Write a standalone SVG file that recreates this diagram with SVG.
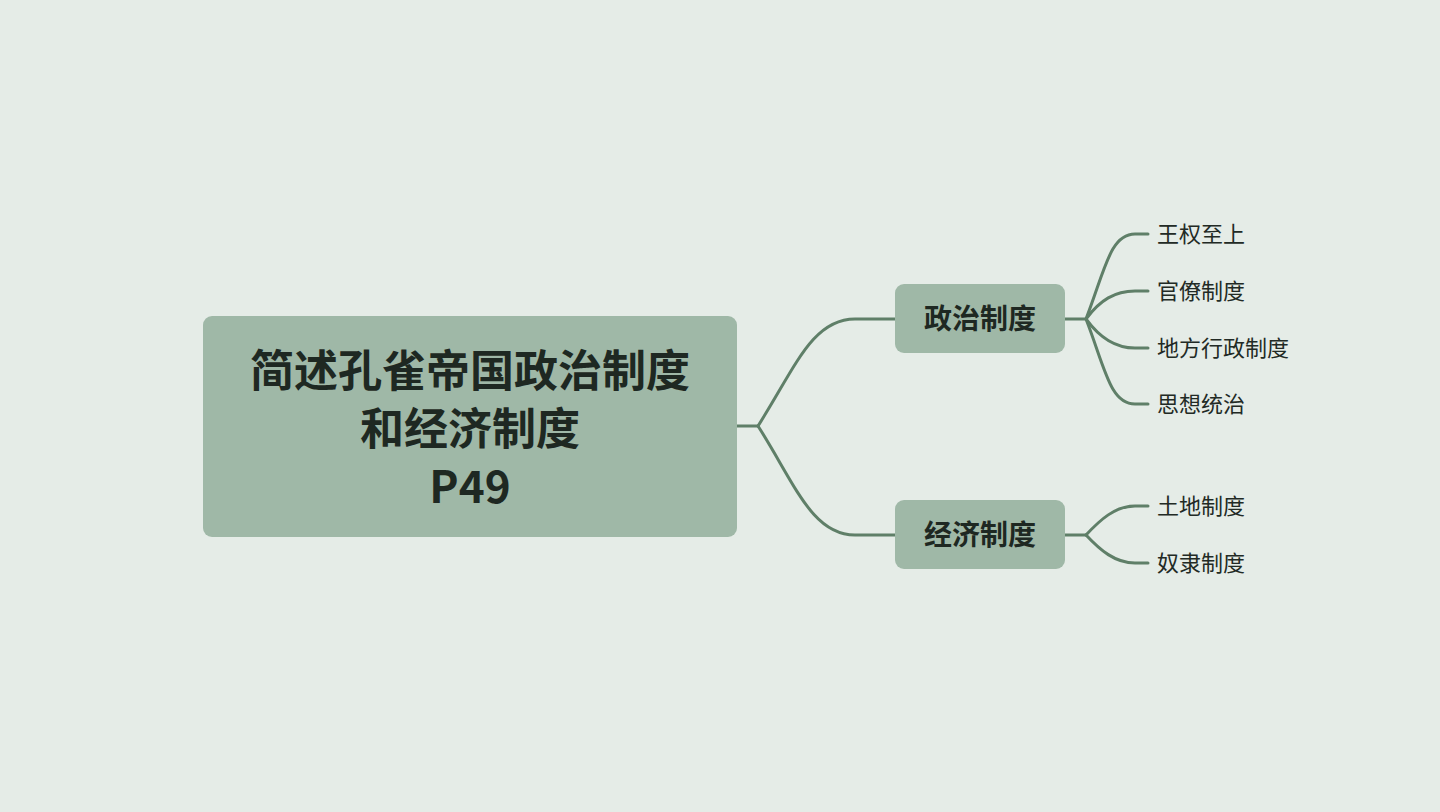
<svg xmlns="http://www.w3.org/2000/svg" width="1440" height="812" viewBox="0 0 1440 812">
<style>
.box{fill:#9fb8a7}
.t{font-family:"Noto Sans CJK SC","Noto Sans",sans-serif;fill:#1e2822;text-anchor:middle;dominant-baseline:central}
.main{font-size:44px;font-weight:700}
.sub{font-size:28px;font-weight:700}
.leaf{font-family:"Noto Sans CJK SC","Noto Sans",sans-serif;fill:#222a25;font-size:22px;dominant-baseline:central}
.c{fill:none;stroke:#5f7f68;stroke-width:3;stroke-linecap:round}
</style>
<rect width="1440" height="812" fill="#e5ece7"/>
<g id="connectors">
<path class="c" d="M737,426 L758,426"/>
<path class="c" d="M758,426 C795,368 812,319 855,319 L895,319"/>
<path class="c" d="M758,426 C795,484 812,535 855,535 L895,535"/>
<path class="c" d="M1065,319 L1086,319"/>
<path class="c" d="M1086,319 C1105,270 1110,234 1135,234 L1148,234"/>
<path class="c" d="M1086,319 C1100,300 1115,291 1135,291 L1148,291"/>
<path class="c" d="M1086,319 C1100,338 1115,348 1135,348 L1148,348"/>
<path class="c" d="M1086,319 C1105,368 1110,404 1135,404 L1148,404"/>
<path class="c" d="M1065,535 L1086,535"/>
<path class="c" d="M1086,535 C1100,520 1115,506 1135,506 L1148,506"/>
<path class="c" d="M1086,535 C1100,550 1115,563 1135,563 L1148,563"/>
</g>
<g id="root">
<rect class="box" x="203" y="316" width="534" height="221" rx="9"/>
<text class="t main" x="470" y="368">简述孔雀帝国政治制度</text>
<text class="t main" x="470" y="426">和经济制度</text>
<text class="t main" x="470" y="484">P49</text>
</g>
<g id="politics">
<rect class="box" x="895" y="284" width="170" height="69" rx="9"/>
<text class="t sub" x="980" y="317">政治制度</text>
</g>
<g id="economy">
<rect class="box" x="895" y="500" width="170" height="69" rx="9"/>
<text class="t sub" x="980" y="533">经济制度</text>
</g>
<g id="leaf1"><text class="leaf" x="1157" y="232">王权至上</text></g>
<g id="leaf2"><text class="leaf" x="1157" y="289">官僚制度</text></g>
<g id="leaf3"><text class="leaf" x="1157" y="346">地方行政制度</text></g>
<g id="leaf4"><text class="leaf" x="1157" y="402">思想统治</text></g>
<g id="leaf5"><text class="leaf" x="1157" y="504">土地制度</text></g>
<g id="leaf6"><text class="leaf" x="1157" y="561">奴隶制度</text></g>
</svg>
